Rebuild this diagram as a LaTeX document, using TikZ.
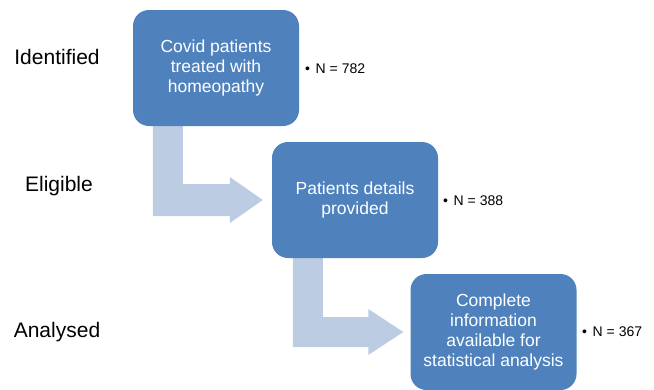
\documentclass[tikz,border=0pt]{standalone}
\usepackage{fontspec}
\setmainfont{Liberation Sans}
\usetikzlibrary{calc}
\pgfdeclarelayer{background}
\pgfsetlayers{background,main}
\definecolor{boxblue}{RGB}{79,129,189}
\definecolor{arrowblue}{RGB}{188,204,226}
\begin{document}
\begin{tikzpicture}[x=1pt,y=-1pt,
  stepbox/.style={fill=boxblue,draw=none,rounded corners=16pt,minimum width=166pt,minimum height=116pt,
    text=white,align=center,font=\fontsize{17.5}{20}\selectfont,inner sep=0pt},
  stagelabel/.style={font=\fontsize{21}{24}\selectfont,inner sep=0pt},
  countlabel/.style={font=\fontsize{14}{16}\selectfont,inner sep=0pt,anchor=west},
  bentarrow/.style={fill=arrowblue,draw=none}]
\useasboundingbox (0,0) rectangle (654,389);
% boxes
\node[stepbox] (b1) at (216,68) {Covid patients\\treated with\\homeopathy};
\node[stepbox] (b2) at (355,200) {Patients details\\provided};
\node[stepbox] (b3) at (493.5,332) {Complete\\information\\available for\\statistical analysis};
% bent arrows (behind boxes)
\begin{pgfonlayer}{background}
\fill[bentarrow]
  ($(b1.south west)+(20,0)$) -- ($(b1.south west)+(50,0)$) |- ($(b2.west)+(-42,-16)$)
  -- ($(b2.west)+(-42,-23)$) -- ($(b2.west)+(-9,0)$) -- ($(b2.west)+(-42,23)$)
  -- ($(b2.west)+(-42,16)$) -| cycle;
\fill[bentarrow]
  ($(b2.south west)+(21,0)$) -- ($(b2.south west)+(51,0)$) |- ($(b3.west)+(-42,-15)$)
  -- ($(b3.west)+(-42,-23)$) -- ($(b3.west)+(-7,0)$) -- ($(b3.west)+(-42,23)$)
  -- ($(b3.west)+(-42,15)$) -| cycle;
\end{pgfonlayer}
% stage labels
\node[stagelabel] (l1) at (57,57) {Identified};
\node[stagelabel] (l2) at (59,186) {Eligible};
\node[stagelabel] (l3) at (57,332) {Analysed};
% counts
\node[countlabel] (n1) at (305,69) {•\hspace{0.4em}N = 782};
\node[countlabel] (n2) at (443,201) {•\hspace{0.4em}N = 388};
\node[countlabel] (n3) at (582,332) {•\hspace{0.4em}N = 367};
\end{tikzpicture}
\end{document}
